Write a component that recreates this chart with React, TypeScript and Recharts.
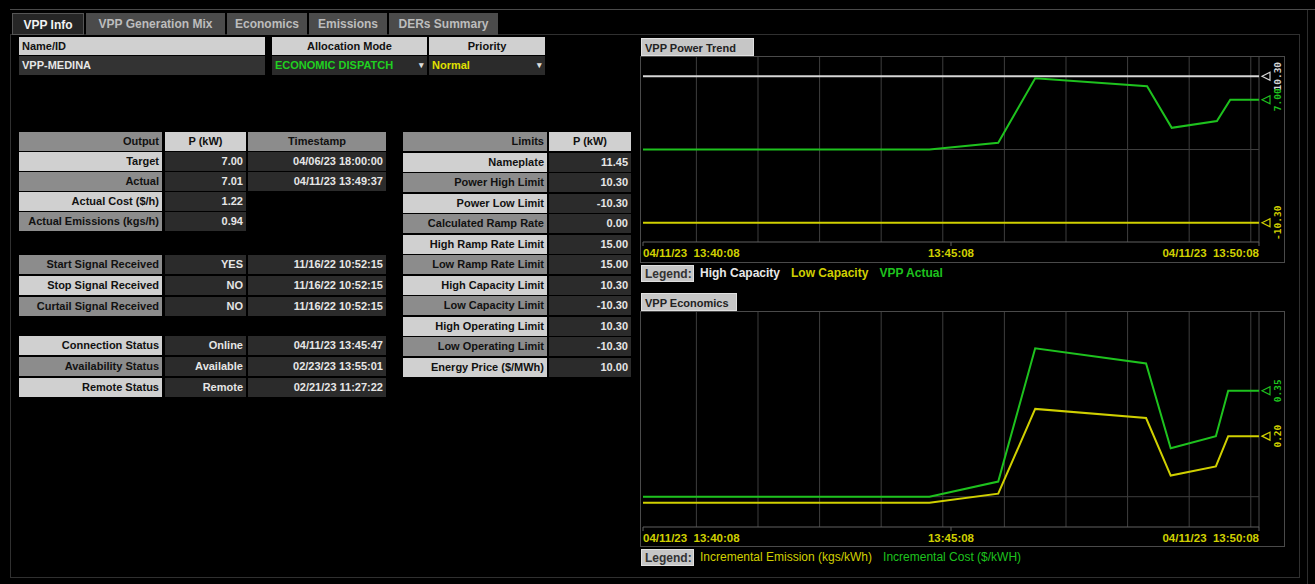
import React from 'react';
import { LineChart, Line, XAxis, YAxis, ReferenceLine } from 'recharts';

// ---- data ----
const tabNames = ['VPP Info', 'VPP Generation Mix', 'Economics', 'Emissions', 'DERs Summary'];

const outputLabels = ['Target', 'Actual', 'Actual Cost ($/h)', 'Actual Emissions (kgs/h)'];
const outputValues = ['7.00', '7.01', '1.22', '0.94'];
const outputTimes = ['04/06/23 18:00:00', '04/11/23 13:49:37', '', ''];

const signalLabels = ['Start Signal Received', 'Stop Signal Received', 'Curtail Signal Received'];
const signalValues = ['YES', 'NO', 'NO'];
const signalTimes = ['11/16/22 10:52:15', '11/16/22 10:52:15', '11/16/22 10:52:15'];

const statusLabels = ['Connection Status', 'Availability Status', 'Remote Status'];
const statusValues = ['Online', 'Available', 'Remote'];
const statusTimes = ['04/11/23 13:45:47', '02/23/23 13:55:01', '02/21/23 11:27:22'];

const limitLabels = [
  'Nameplate', 'Power High Limit', 'Power Low Limit', 'Calculated Ramp Rate',
  'High Ramp Rate Limit', 'Low Ramp Rate Limit', 'High Capacity Limit', 'Low Capacity Limit',
  'High Operating Limit', 'Low Operating Limit', 'Energy Price ($/MWh)',
];
const limitValues = ['11.45', '10.30', '-10.30', '0.00', '15.00', '15.00', '10.30', '-10.30', '10.30', '-10.30', '10.00'];

// seconds since 04/11/23 13:40:08
const trendSeconds = [0, 279, 346, 382, 491, 515, 559, 572, 600];
const vppActual = [0.0, 0.0, 0.95, 10.0, 8.9, 3.05, 4.0, 7.0, 7.0];
const highCapacityKw = 10.3;
const lowCapacityKw = -10.3;

const econSeconds = [0, 279, 346, 382, 490, 514, 558, 570, 600];
const incrementalCost = [0.0, 0.0, 0.05, 0.49, 0.44, 0.16, 0.2, 0.35, 0.35];
const incrementalEmission = [-0.02, -0.02, 0.01, 0.29, 0.26, 0.07, 0.1, 0.2, 0.2];

const timeTicks = [0, 300, 600];
const timeTickLabels = ['04/11/23\u00a0\u00a013:40:08', '13:45:08', '04/11/23\u00a0\u00a013:50:08'];
const minuteMarks = [52, 112, 172, 232, 292, 352, 412, 472, 532, 592];

// ---- styles ----
const font = "'Liberation Sans', Arial, sans-serif";
const LIGHT = '#d0d0d0';
const MID = '#8c8c8c';
const DARK = '#2b2b2b';
const GREEN = '#1ec21e';
const YELLOW = '#d0d000';
const WHITE = '#d6d6d6';
const GRID = '#3e3e3e';
const FRAME = '#4a4a4a';

const powerData = trendSeconds.map((t, i) => ({ t, actual: vppActual[i], high: highCapacityKw, low: lowCapacityKw }));
const econData = econSeconds.map((t, i) => ({ t, cost: incrementalCost[i], emission: incrementalEmission[i] }));

type BoxProps = {
  x: number; y: number; w: number; h: number; bg?: string; color?: string;
  align?: 'left' | 'right' | 'center'; size?: number; bold?: boolean; pad?: number;
  children?: React.ReactNode; border?: string;
};

const Box = ({ x, y, w, h, bg, color = '#111', align = 'right', size = 11, bold = true, pad = 3, children, border }: BoxProps) => (
  <div style={{
    position: 'absolute', left: x, top: y, width: w, height: h, background: bg, color, textAlign: align,
    fontFamily: font, fontSize: size, fontWeight: bold ? 700 : 400, lineHeight: `${h}px`,
    padding: `0 ${pad}px`, boxSizing: 'border-box', whiteSpace: 'nowrap', overflow: 'hidden', border,
  }}>{children}</div>
);

// three-column table (label | value | timestamp)
const Table3 = ({ top, pitch, labels, values, times, lightFirst, header }: {
  top: number; pitch: number; labels: string[]; values: string[]; times: string[]; lightFirst: boolean; header?: boolean;
}) => {
  const rows: React.ReactNode[] = [];
  let y = top;
  if (header) {
    rows.push(<Box key="h1" x={19} y={y} w={143} h={19} bg={MID}>Output</Box>);
    rows.push(<Box key="h2" x={165} y={y} w={81} h={19} bg={LIGHT} align="center">P (kW)</Box>);
    rows.push(<Box key="h3" x={248} y={y} w={138} h={19} bg={MID} align="center">Timestamp</Box>);
    y += pitch;
  }
  labels.forEach((l, i) => {
    const light = (i % 2 === 0) === lightFirst;
    const ry = y + i * pitch;
    rows.push(<Box key={`l${i}`} x={19} y={ry} w={143} h={19} bg={light ? LIGHT : MID}>{l}</Box>);
    rows.push(<Box key={`v${i}`} x={165} y={ry} w={81} h={19} bg={DARK} color="#e6e6e6">{values[i]}</Box>);
    if (times[i]) rows.push(<Box key={`t${i}`} x={248} y={ry} w={138} h={19} bg={DARK} color="#e6e6e6">{times[i]}</Box>);
  });
  return <>{rows}</>;
};

const TimeTick = (props: any) => {
  const { x, y, index } = props;
  const anchor = index === 0 ? 'start' : index === timeTickLabels.length - 1 ? 'end' : 'middle';
  return (
    <text x={x} y={y + 9} textAnchor={anchor} fill={YELLOW} fontSize={11.5} fontWeight={700} fontFamily={font}>
      {timeTickLabels[index]}
    </text>
  );
};

// marker + rotated current value at the last point of a series
const endDot = (color: string, values: number[]) => (p: any) => {
  if (p.index !== values.length - 1) return <g key={`d${p.index}`} />;
  const { cx, cy } = p;
  return (
    <g key="end">
      <path d={`M${cx + 3},${cy} L${cx + 11},${cy - 4} L${cx + 11},${cy + 4} Z`} fill="none" stroke={color} strokeWidth={1.2} />
      <text transform={`translate(${cx + 18},${cy}) rotate(-90)`} textAnchor="middle" dominantBaseline="central"
        fill={color} fontSize={9.5} fontWeight={700} fontFamily="'DejaVu Sans Mono', monospace">
        {values[values.length - 1].toFixed(2)}
      </text>
    </g>
  );
};

const gridLines = (yZero: number) => [
  ...minuteMarks.map((m) => <ReferenceLine key={`m${m}`} x={m} stroke={GRID} strokeWidth={1} ifOverflow="extendDomain" />),
  <ReferenceLine key="right" x={600} stroke={FRAME} strokeWidth={1} />,
  <ReferenceLine key="zero" y={yZero} stroke={GRID} strokeWidth={1} />,
];

const ChartTitle = ({ x, y, w, text }: { x: number; y: number; w: number; text: string }) => (
  <Box x={x} y={y} w={w} h={18} bg="#c6c6c6" color="#222" align="left" pad={3} border="1px solid #e0e0e0">{text}</Box>
);

const Frame = ({ y, h }: { y: number; h: number }) => (
  <div style={{ position: 'absolute', left: 640, top: y, width: 645, height: h, border: `1px solid ${FRAME}`, boxSizing: 'border-box' }} />
);

const LegendRow = ({ y, items, bold }: { y: number; items: { text: string; color: string }[]; bold: boolean }) => (
  <>
    <Box x={641} y={y} w={53} h={17} bg="#c6c6c6" color="#333" align="left" pad={3} size={12} border="1px solid #e0e0e0">Legend:</Box>
    <div style={{ position: 'absolute', left: 700, top: y, height: 17, lineHeight: '17px', fontFamily: font, fontSize: 12, fontWeight: bold ? 700 : 400, whiteSpace: 'nowrap' }}>
      {items.map((it) => (
        <span key={it.text} style={{ color: it.color, marginRight: 11 }}>{it.text}</span>
      ))}
    </div>
  </>
);

const tabX = [12, 86, 227, 309, 389];
const tabW = [72, 139, 80, 78, 109];

export default function App() {
  return (
    <div style={{ position: 'relative', width: 1315, height: 584, background: '#000', overflow: 'hidden', fontFamily: font }}>
      <style>{'body{margin:0;background:#000}'}</style>

      {/* outer frame lines */}
      <div style={{ position: 'absolute', left: 10, top: 9, width: 1305, height: 1, background: '#4a4a4a' }} />
      <div style={{ position: 'absolute', left: 10, top: 34, width: 1290, height: 544, border: '1px solid #303030', boxSizing: 'border-box' }} />
      <div style={{ position: 'absolute', left: 1307, top: 10, width: 1, height: 574, background: '#2e2e2e' }} />

      {/* tabs */}
      {tabNames.map((t, i) => (
        <Box key={t} x={tabX[i]} y={13} w={tabW[i]} h={22} bg={i === 0 ? '#262626' : '#4b4b4b'}
          color={i === 0 ? '#f2f2f2' : '#bdbdbd'} align="center" size={12} pad={0}
          border={i === 0 ? '1px solid #555' : undefined}>{t}</Box>
      ))}

      {/* name / mode / priority */}
      <Box x={19} y={37} w={246} h={18} bg={LIGHT} align="left">Name/ID</Box>
      <Box x={19} y={56} w={246} h={19} bg="#333" color="#e6e6e6" align="left">VPP-MEDINA</Box>
      <Box x={272} y={37} w={155} h={18} bg={LIGHT} align="center">Allocation Mode</Box>
      <Box x={429} y={37} w={116} h={18} bg={LIGHT} align="center">Priority</Box>
      <Box x={272} y={56} w={155} h={19} bg={DARK} color="#20d020" align="left">ECONOMIC DISPATCH</Box>
      <Box x={416} y={56} w={11} h={19} color="#ddd" align="center" pad={0} size={9}>▾</Box>
      <Box x={429} y={56} w={116} h={19} bg={DARK} color="#e0e000" align="left">Normal</Box>
      <Box x={534} y={56} w={11} h={19} color="#ddd" align="center" pad={0} size={9}>▾</Box>

      {/* left tables */}
      <Table3 top={132} pitch={20.1} labels={outputLabels} values={outputValues} times={outputTimes} lightFirst header />
      <Table3 top={255} pitch={20.8} labels={signalLabels} values={signalValues} times={signalTimes} lightFirst={false} />
      <Table3 top={336} pitch={20.8} labels={statusLabels} values={statusValues} times={statusTimes} lightFirst />

      {/* limits */}
      <Box x={403} y={132} w={144} h={19} bg={MID}>Limits</Box>
      <Box x={549} y={132} w={82} h={19} bg={LIGHT} align="center">P (kW)</Box>
      {limitLabels.map((l, i) => (
        <React.Fragment key={l}>
          <Box x={403} y={132 + (i + 1) * 20.5} w={144} h={19} bg={i % 2 === 0 ? LIGHT : MID}>{l}</Box>
          <Box x={549} y={132 + (i + 1) * 20.5} w={82} h={19} bg={DARK} color="#e6e6e6">{limitValues[i]}</Box>
        </React.Fragment>
      ))}

      {/* VPP Power Trend */}
      <ChartTitle x={641} y={38} w={113} text="VPP Power Trend" />
      <Frame y={56} h={207} />
      <div style={{ position: 'absolute', left: 640, top: 56 }}>
        <LineChart width={645} height={206} data={powerData} margin={{ top: 1, right: 26, bottom: 0, left: 3 }}>
          <XAxis type="number" dataKey="t" domain={[0, 600]} ticks={timeTicks} interval={0} height={20}
            stroke="#606060" tickSize={4} tick={(p: any) => <TimeTick {...p} />} />
          <YAxis hide type="number" domain={[-13, 13]} />
          {gridLines(0)}
          <Line dataKey="high" stroke={WHITE} strokeWidth={2} isAnimationActive={false} dot={endDot(WHITE, powerData.map((d) => d.high))} activeDot={false} />
          <Line dataKey="low" stroke={YELLOW} strokeWidth={2} isAnimationActive={false} dot={endDot(YELLOW, powerData.map((d) => d.low))} activeDot={false} />
          <Line dataKey="actual" stroke={GREEN} strokeWidth={2} isAnimationActive={false} dot={endDot(GREEN, vppActual)} activeDot={false} />
        </LineChart>
      </div>
      <LegendRow y={265} bold items={[
        { text: 'High Capacity', color: '#e8e8e8' },
        { text: 'Low Capacity', color: YELLOW },
        { text: 'VPP Actual', color: GREEN },
      ]} />

      {/* VPP Economics */}
      <ChartTitle x={641} y={293} w={96} text="VPP Economics" />
      <Frame y={311} h={236} />
      <div style={{ position: 'absolute', left: 640, top: 311 }}>
        <LineChart width={645} height={236} data={econData} margin={{ top: 1, right: 26, bottom: 0, left: 3 }}>
          <XAxis type="number" dataKey="t" domain={[0, 600]} ticks={timeTicks} interval={0} height={20}
            stroke="#606060" tickSize={4} tick={(p: any) => <TimeTick {...p} />} />
          <YAxis hide type="number" domain={[-0.1, 0.61]} />
          {gridLines(0)}
          <Line dataKey="emission" stroke={YELLOW} strokeWidth={2} isAnimationActive={false} dot={endDot(YELLOW, incrementalEmission)} activeDot={false} />
          <Line dataKey="cost" stroke={GREEN} strokeWidth={2} isAnimationActive={false} dot={endDot(GREEN, incrementalCost)} activeDot={false} />
        </LineChart>
      </div>
      <LegendRow y={549} bold={false} items={[
        { text: 'Incremental Emission (kgs/kWh)', color: YELLOW },
        { text: 'Incremental Cost ($/kWH)', color: GREEN },
      ]} />
    </div>
  );
}
